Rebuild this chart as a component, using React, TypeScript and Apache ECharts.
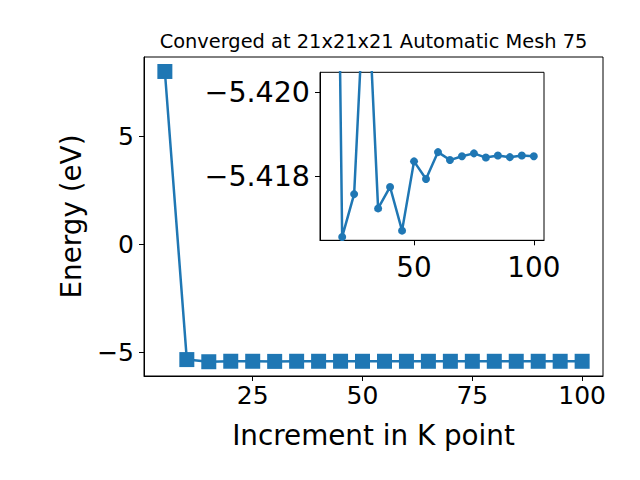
import React, { useEffect, useRef } from "react";
import * as echarts from "echarts";

const kPoints = [5, 10, 15, 20, 25, 30, 35, 40, 45, 50, 55, 60, 65, 70, 75, 80, 85, 90, 95, 100];
const energies = [
  8.0, -5.34, -5.4394, -5.41656, -5.41758, -5.4234, -5.41724, -5.41775, -5.41671, -5.41836,
  -5.41794, -5.41858, -5.41839, -5.41848, -5.41855, -5.41845, -5.4185, -5.41846, -5.4185, -5.41848,
];
const mainXTicks = [25, 50, 75, 100];
const mainYTicks = [-5, 0, 5];
const insetXTicks = [50, 100];
const insetYTicks = [-5.42, -5.418];
const insetStart = 2;

const title = "Converged at 21x21x21 Automatic Mesh 75";
const xName = "Increment in K point";
const yName = "Energy (eV)";

const BLUE = "#1f77b4";
const FONT = "DejaVu Sans";

const fmt = (v: number, d: number) => {
  const s = Math.abs(v).toFixed(d);
  return v < 0 ? "\u2212" + s : s;
};

export default function App() {
  const ref = useRef<HTMLDivElement>(null);
  useEffect(() => {
    if (!ref.current) return;
    const chart = echarts.init(ref.current, undefined, { renderer: "svg" });
    const mainData = kPoints.map((k, i) => [k, energies[i]]);
    const insetData = kPoints.slice(insetStart).map((k, i) => [k, energies[i + insetStart]]);
    const axisCommon = {
      axisLine: { show: true, onZero: false, lineStyle: { color: "#000", width: 1 } },
      axisTick: { show: true, inside: false, length: 5, lineStyle: { color: "#000", width: 1 } },
      splitLine: { show: false },
    };
    chart.setOption({
      animation: false,
      backgroundColor: "#fff",
      graphic: [
        {
          type: "text",
          x: 373.5,
          y: 41,
          style: {
            text: title,
            font: `19.4px "${FONT}"`,
            fill: "#000",
            textAlign: "center",
            textVerticalAlign: "middle",
          },
        },
      ],
      grid: [
        { left: 144, top: 57, width: 459, height: 319, show: true, borderColor: "#000", borderWidth: 1, backgroundColor: "#fff" },
        { left: 320, top: 72.3, width: 224, height: 168, show: true, borderColor: "#000", borderWidth: 1, backgroundColor: "#fff", z: 5 },
      ],
      xAxis: [
        {
          ...axisCommon,
          type: "value",
          gridIndex: 0,
          min: 0.25,
          max: 104.75,
          axisTick: { ...axisCommon.axisTick, customValues: mainXTicks },
          axisLabel: {
            customValues: mainXTicks,
            fontFamily: FONT,
            fontSize: 25,
            color: "#000",
            margin: 7,
            formatter: (v: number) => fmt(v, 0),
          },
          name: xName,
          nameLocation: "middle",
          nameGap: 45,
          nameTextStyle: { fontFamily: FONT, fontSize: 27.8, color: "#000" },
        },
        {
          ...axisCommon,
          type: "value",
          gridIndex: 1,
          min: 10.75,
          max: 104.25,
          z: 6,
          axisTick: { ...axisCommon.axisTick, customValues: insetXTicks },
          axisLabel: {
            customValues: insetXTicks,
            fontFamily: FONT,
            fontSize: 27.8,
            color: "#000",
            margin: 13,
            formatter: (v: number) => fmt(v, 0),
          },
        },
      ],
      yAxis: [
        {
          ...axisCommon,
          type: "value",
          gridIndex: 0,
          min: -6.1,
          max: 8.67,
          axisTick: { ...axisCommon.axisTick, customValues: mainYTicks },
          axisLabel: {
            customValues: mainYTicks,
            fontFamily: FONT,
            fontSize: 25,
            color: "#000",
            margin: 10,
            formatter: (v: number) => fmt(v, 0),
          },
          name: yName,
          nameLocation: "middle",
          nameGap: 59,
          nameTextStyle: { fontFamily: FONT, fontSize: 27.8, color: "#000" },
        },
        {
          ...axisCommon,
          type: "value",
          gridIndex: 1,
          inverse: true,
          min: -5.42048,
          max: -5.41648,
          z: 6,
          axisTick: { ...axisCommon.axisTick, customValues: insetYTicks },
          axisLabel: {
            customValues: insetYTicks,
            fontFamily: FONT,
            fontSize: 28.5,
            color: "#000",
            margin: 10,
            formatter: (v: number) => fmt(v, 3),
          },
        },
      ],
      series: [
        {
          type: "line",
          xAxisIndex: 0,
          yAxisIndex: 0,
          data: mainData,
          symbol: "rect",
          symbolSize: 15,
          lineStyle: { color: BLUE, width: 2.5 },
          itemStyle: { color: BLUE },
          clip: true,
        },
        {
          type: "line",
          xAxisIndex: 1,
          yAxisIndex: 1,
          data: insetData,
          symbol: "circle",
          symbolSize: 8,
          lineStyle: { color: BLUE, width: 2.5 },
          itemStyle: { color: BLUE },
          clip: true,
          z: 7,
        },
      ],
    });
    return () => chart.dispose();
  }, []);
  return <div ref={ref} style={{ width: 640, height: 480, position: "absolute", left: 0, top: 0 }} />;
}
